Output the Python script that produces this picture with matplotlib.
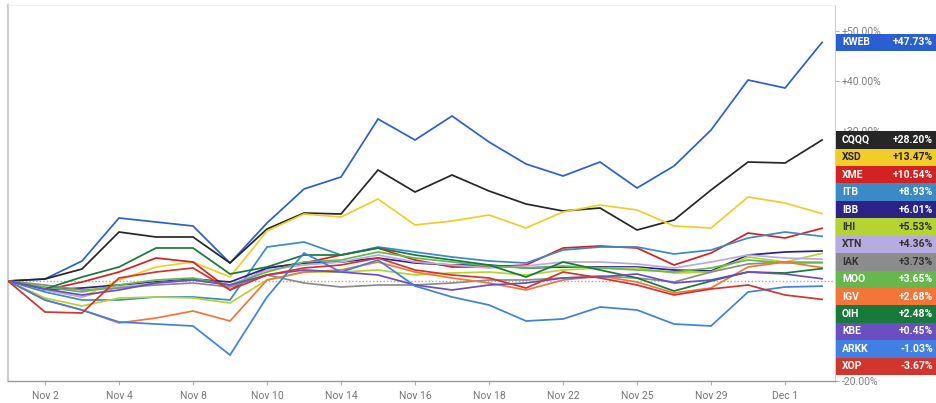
import matplotlib
matplotlib.use("Agg")
import matplotlib.pyplot as plt
from matplotlib.patches import Rectangle

plt.rcParams['font.family'] = ['Roboto', 'DejaVu Sans']

# ---- data ----
dates = ["Nov 1", "Nov 2", "Nov 3", "Nov 4", "Nov 7", "Nov 8", "Nov 9", "Nov 10", "Nov 11",
         "Nov 14", "Nov 15", "Nov 16", "Nov 17", "Nov 18", "Nov 21", "Nov 22", "Nov 23",
         "Nov 25", "Nov 28", "Nov 29", "Nov 30", "Dec 1", "Dec 2"]
tick_labels = ["Nov 2", "Nov 4", "Nov 8", "Nov 10", "Nov 14", "Nov 16", "Nov 18",
               "Nov 22", "Nov 25", "Nov 29", "Dec 1"]

KWEB = [0, 0.4, 4.0, 12.6, 11.8, 11.0, 3.6, 11.6, 18.4, 20.8, 32.4, 28.2, 33.0, 27.8, 23.4, 21.0, 23.8, 18.6, 23.0, 30.2, 40.2, 38.6, 47.73]
CQQQ = [0, 0.4, 2.4, 9.8, 8.8, 8.8, 3.6, 10.4, 13.6, 13.4, 22.2, 17.8, 21.2, 18.0, 15.4, 14.0, 14.6, 10.2, 12.2, 18.2, 23.8, 23.6, 28.20]
XSD = [0, -1.8, -3.2, 0.2, 2.8, 3.8, 0.8, 10.0, 13.4, 12.8, 16.4, 11.2, 12.0, 13.2, 10.6, 13.8, 15.2, 14.2, 11.0, 10.6, 16.8, 15.6, 13.47]
XME = [0, -1.8, -0.2, 1.8, 4.6, 3.8, -1.8, 2.6, 3.6, 5.2, 6.6, 4.2, 2.8, 2.8, 3.2, 6.6, 7.0, 6.6, 3.2, 5.6, 9.6, 8.6, 10.54]
ITB = [0, -2.2, -3.8, -3.8, -3.2, -3.2, -3.8, 6.8, 7.8, 5.2, 6.8, 5.8, 4.8, 4.0, 3.6, 6.2, 6.8, 6.8, 5.4, 6.2, 8.6, 9.8, 8.93]
IBB = [0, -1.8, -1.4, -0.8, -0.2, 0.4, -0.2, 2.6, 3.6, 3.8, 4.6, 3.6, 3.2, 3.2, 2.6, 2.8, 2.8, 2.8, 2.2, 2.0, 5.2, 5.8, 6.01]
IHI = [0, -3.4, -5.0, -3.4, -3.2, -3.4, -4.4, 0.2, 1.8, 1.8, 2.2, 1.2, 1.6, 1.8, 1.2, 2.2, 2.6, 2.6, 1.6, 1.8, 4.8, 3.8, 5.53]
XTN = [0, -1.8, -3.2, -1.2, -0.4, 0.2, -0.8, 2.2, 3.2, 3.8, 5.2, 3.8, 3.2, 2.6, 3.0, 3.8, 3.8, 3.4, 2.6, 3.8, 5.2, 4.6, 4.36]
IAK = [0, -0.8, -1.8, -1.4, -0.8, -0.4, -1.2, 1.2, -0.4, -1.2, -0.8, -0.8, -0.4, 0.2, 0.2, 0.6, 1.0, 0.6, -0.2, 1.8, 3.4, 3.8, 3.73]
MOO = [0, -1.2, -2.2, -0.8, 0.2, 0.6, -0.8, 1.8, 3.8, 4.2, 5.8, 4.6, 3.8, 3.0, 2.6, 3.0, 2.6, 2.2, 1.8, 2.6, 4.2, 3.6, 3.65]
IGV = [0, -3.8, -5.8, -8.4, -7.4, -6.0, -8.0, 0.2, 1.8, 2.2, 3.8, 1.8, 0.6, -0.4, -1.8, 0.2, 1.0, -0.2, -2.4, -1.4, 2.8, 3.8, 2.68]
OIH = [0, -1.6, 0.8, 2.8, 6.6, 6.6, 1.4, 2.8, 5.2, 5.2, 6.6, 5.2, 4.2, 3.2, 0.8, 3.8, 2.2, 0.6, -2.0, 0.0, 1.8, 1.6, 2.48]
KBE = [0, -1.6, -2.8, -1.8, -0.4, 0.2, -0.8, 1.2, 2.2, 1.8, 1.2, -0.8, -1.8, -0.8, -0.4, 0.6, 0.8, 1.4, -0.4, 0.2, 1.8, 1.4, 0.45]
ARKK = [0, -3.8, -5.8, -8.2, -8.6, -9.0, -14.8, -3.2, 5.6, 1.8, 4.2, -1.0, -3.2, -4.8, -8.0, -7.6, -5.2, -5.8, -8.6, -9.0, -2.2, -1.2, -1.03]
XOP = [0, -6.2, -6.4, 0.6, 1.8, 2.6, -1.8, 1.2, 2.6, 3.2, 4.6, 2.2, 1.2, 0.6, -1.4, 1.8, 0.6, -0.8, -2.8, -1.6, -0.8, -2.8, -3.67]

tickers = ["KWEB", "CQQQ", "XSD", "XME", "ITB", "IBB", "IHI", "XTN", "IAK", "MOO", "IGV", "OIH", "KBE", "ARKK", "XOP"]
series = [KWEB, CQQQ, XSD, XME, ITB, IBB, IHI, XTN, IAK, MOO, IGV, OIH, KBE, ARKK, XOP]
colors = ["#2a5fd2", "#262626", "#f2cd2a", "#d42121", "#3a8ac8", "#2d2387", "#b6d334", "#b7ace2",
          "#8c8c8c", "#67b84c", "#f3753a", "#17793a", "#6a4fc2", "#3f80e2", "#d0352e"]
text_colors = ["white", "white", "#222222", "white", "white", "white", "#333333", "#333333",
               "#333333", "white", "white", "white", "white", "white", "white"]

yticks = [50, 40, 30, 20, 10, 0, -10, -20]
ytick_labels = ["+50.00%", "+40.00%", "+30.00%", "", "", "", "", "-20.00%"]

# ---- figure ----
W, H = 937, 403
fig = plt.figure(figsize=(W / 100, H / 100), dpi=100)
ax = fig.add_axes([8 / W, 22 / H, 827 / W, 376 / H])

x = list(range(len(dates)))
for s, c in zip(series, colors):
    ax.plot(x, s, color=c, lw=1.25, solid_joinstyle='miter', zorder=3)

ax.axhline(0, color="#a8a8a8", lw=1.0, ls=(0, (1, 1.5)), zorder=2)

ax.set_xlim(0, 22.35)
ax.set_ylim(-20, 55.2)

tick_pos = [dates.index(t) for t in tick_labels]
ax.set_xticks(tick_pos)
ax.set_xticklabels(tick_labels)
ax.tick_params(axis='x', length=3, width=0.8, color="#b0b0b0", labelcolor="#777777",
               labelsize=7.5, pad=4)

ax.yaxis.tick_right()
ax.set_yticks(yticks)
ax.set_yticklabels(ytick_labels)
ax.tick_params(axis='y', length=3, width=0.8, color="#b0b0b0", labelcolor="#808080",
               labelsize=7.5, pad=2)

for side in ["left", "bottom", "right", "top"]:
    ax.spines[side].set_color("#cfcfcf")
ax.spines["left"].set_linewidth(1.6)
ax.spines["top"].set_linewidth(0.6)
ax.spines["top"].set_color("#eeeeee")
ax.spines["right"].set_linewidth(0.8)
ax.spines["bottom"].set_linewidth(1.0)
ax.spines["bottom"].set_color("#9a9a9a")

# ---- end labels ----
fig.canvas.draw()
box_h = 17.4
box_x0 = 836
box_x1 = W
y_kweb = ax.transData.transform((0, KWEB[-1]))[1]
y_cqqq = ax.transData.transform((0, CQQQ[-1]))[1]
centers = [y_kweb] + [y_cqqq - i * box_h for i in range(len(tickers) - 1)]

for t, s, c, tc, yc in zip(tickers, series, colors, text_colors, centers):
    rect = Rectangle((box_x0 / W, (yc - box_h / 2) / H), (box_x1 - box_x0) / W, box_h / H,
                     transform=fig.transFigure, facecolor=c, edgecolor="none", zorder=5)
    fig.add_artist(rect)
    val = s[-1]
    vtxt = f"+{val:.2f}%" if val >= 0 else f"{val:.2f}%"
    fig.text((box_x0 + 6) / W, yc / H, t, color=tc, fontsize=7.5, fontweight='bold',
             va='center', ha='left', zorder=6)
    fig.text((W - 4) / W, yc / H, vtxt, color=tc, fontsize=7.5, fontweight='bold',
             va='center', ha='right', zorder=6)

fig.savefig("out.png", dpi=100, facecolor="white")
